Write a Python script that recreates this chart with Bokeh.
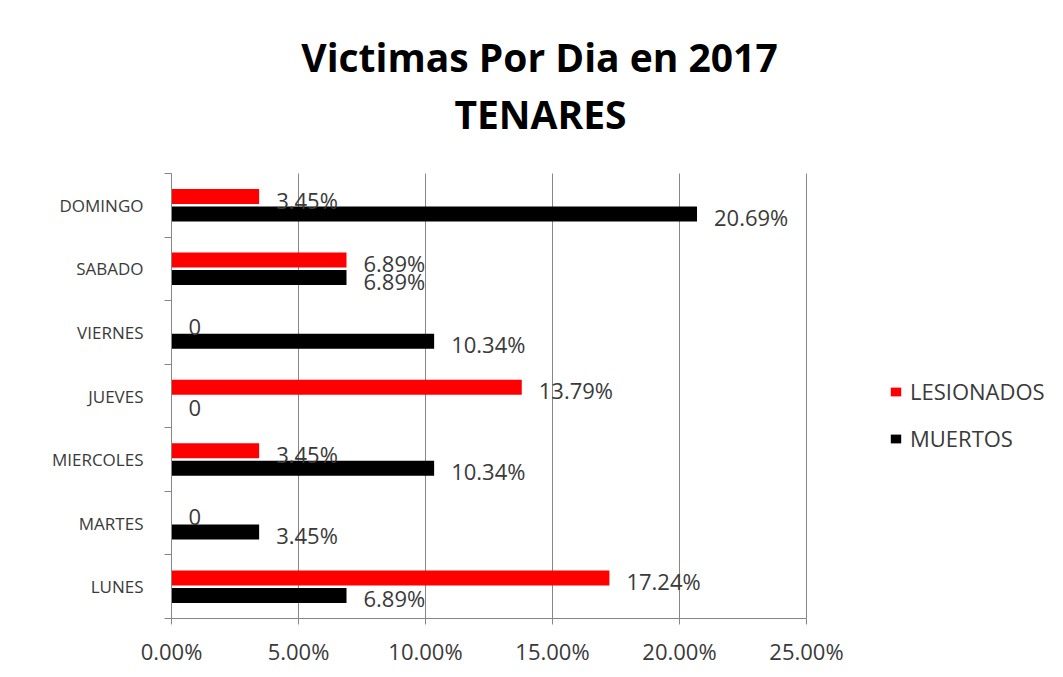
from bokeh.plotting import figure
from bokeh.models import (ColumnDataSource, Range1d, LinearAxis, FixedTicker, NumeralTickFormatter,
                          Label, Legend, LegendItem)
from bokeh.transform import dodge
from bokeh.core.properties import value
from bokeh.embed import file_html
from bokeh.resources import INLINE

days = ["LUNES", "MARTES", "MIERCOLES", "JUEVES", "VIERNES", "SABADO", "DOMINGO"]
lesionados = [17.24, 0.0, 3.45, 13.79, 0.0, 6.89, 3.45]
muertos = [6.89, 3.45, 10.34, 0.0, 10.34, 6.89, 20.69]
x_ticks = [0.0, 0.05, 0.10, 0.15, 0.20, 0.25]
series_names = ["LESIONADOS", "MUERTOS"]
title_lines = ["Victimas Por Dia en 2017", "TENARES"]

def lbl(v):
    return "0" if v == 0 else f"{v:.2f}%"

n = len(days)
centers = [i + 0.5 for i in range(n)]
src = ColumnDataSource(dict(
    pos=centers,
    les=[v / 100 for v in lesionados],
    mue=[v / 100 for v in muertos],
    les_lbl=[lbl(v) for v in lesionados],
    mue_lbl=[lbl(v) for v in muertos],
))

FONT = "Open Sans"
GRAY = "#868686"
TXT = "#3a3a3a"

# layout (pixels)
W, H = 1047, 668
LEFT, BOTTOM = 171, 50
PLOT_W, PLOT_H = 635, 445          # size of the chart area inside the frame
FRAME_W, FRAME_H = W - LEFT, H - BOTTOM
x_max = x_ticks[-1]
x_end = x_max * FRAME_W / PLOT_W
y_end = n * FRAME_H / PLOT_H

def px_x(px):   # pixel offset from chart-area left -> data x
    return px * x_max / PLOT_W

def px_y(px):   # pixel offset from chart-area bottom -> data y
    return px * n / PLOT_H

p = figure(width=W, height=H, output_backend="svg", toolbar_location=None,
           y_range=Range1d(0, y_end), x_range=Range1d(0, x_end),
           x_axis_location=None, y_axis_location=None,
           min_border_left=LEFT, min_border_right=0, min_border_top=0, min_border_bottom=BOTTOM)
p.outline_line_color = None
p.background_fill_color = "white"
p.border_fill_color = "white"
p.xgrid.visible = False
p.ygrid.visible = False

# inner left axis: tick marks between categories
tick_axis = LinearAxis(ticker=FixedTicker(ticks=list(range(n + 1))), bounds=(0, n),
                       axis_line_color=GRAY, major_tick_line_color=GRAY,
                       major_tick_out=7, major_tick_in=0, minor_tick_line_color=None,
                       major_label_overrides={i: "" for i in range(n + 1)},
                       major_label_text_font_size="1px", major_label_standoff=0)
p.add_layout(tick_axis, "left")
cat_axis = LinearAxis(ticker=FixedTicker(ticks=centers),
                      major_label_overrides={c: d for c, d in zip(centers, days)},
                      axis_line_color=None, major_tick_line_color=None, minor_tick_line_color=None,
                      major_tick_out=0, major_tick_in=0,
                      major_label_text_font=FONT, major_label_text_font_size="17px",
                      major_label_text_color=TXT, major_label_standoff=21)
p.add_layout(cat_axis, "left")

xaxis = LinearAxis(ticker=FixedTicker(ticks=x_ticks), formatter=NumeralTickFormatter(format="0.00%"),
                   bounds=(0, x_max),
                   axis_line_color=GRAY, major_tick_line_color=GRAY, major_tick_out=6, major_tick_in=0,
                   minor_tick_line_color=None,
                   major_label_text_font=FONT, major_label_text_font_size="22px",
                   major_label_text_color=TXT, major_label_standoff=11)
p.add_layout(xaxis, "below")

# vertical gridlines at the x ticks, spanning the category area
p.segment(x0=x_ticks, x1=x_ticks, y0=[0] * len(x_ticks), y1=[n] * len(x_ticks),
          line_color=GRAY, line_width=1, level="underlay")

off = 0.1375
bh = 0.236
r1 = p.hbar(y=dodge("pos", off), left=0, right="les", height=bh,
            source=src, fill_color="#ff0000", line_color=None)
r2 = p.hbar(y=dodge("pos", -off), left=0, right="mue", height=bh,
            source=src, fill_color="#000000", line_color=None)

p.text(x="les", y=dodge("pos", off), text="les_lbl", source=src,
       x_offset=17, y_offset=3, text_baseline="middle", text_align="left",
       text_font=value(FONT), text_font_size="22px", text_color=TXT)
p.text(x="mue", y=dodge("pos", -off), text="mue_lbl", source=src,
       x_offset=17, y_offset=3, text_baseline="middle", text_align="left",
       text_font=value(FONT), text_font_size="22px", text_color=TXT)

legend = Legend(items=[LegendItem(label=series_names[0], renderers=[r1]),
                       LegendItem(label=series_names[1], renderers=[r2])],
                location=(718, 165), orientation="vertical",
                glyph_width=13, glyph_height=11, label_height=30, spacing=17,
                label_standoff=8, padding=0, margin=0,
                border_line_color=None, background_fill_alpha=0,
                label_text_font=FONT, label_text_font_size="22px", label_text_color=TXT)
p.add_layout(legend, "center")

# title: baselines 562 and 505 px above chart bottom, centred 368 px right of chart left
p.add_layout(Label(x=px_x(368), y=px_y(562), text=title_lines[0],
                   text_align="center", text_baseline="alphabetic", text_font=FONT,
                   text_font_size="39px", text_font_style="bold", text_color="#000000"))
p.add_layout(Label(x=px_x(369), y=px_y(505), text=title_lines[1],
                   text_align="center", text_baseline="alphabetic", text_font=FONT,
                   text_font_size="39px", text_font_style="bold", text_color="#000000"))

open("out.html", "w").write(file_html(p, INLINE))
